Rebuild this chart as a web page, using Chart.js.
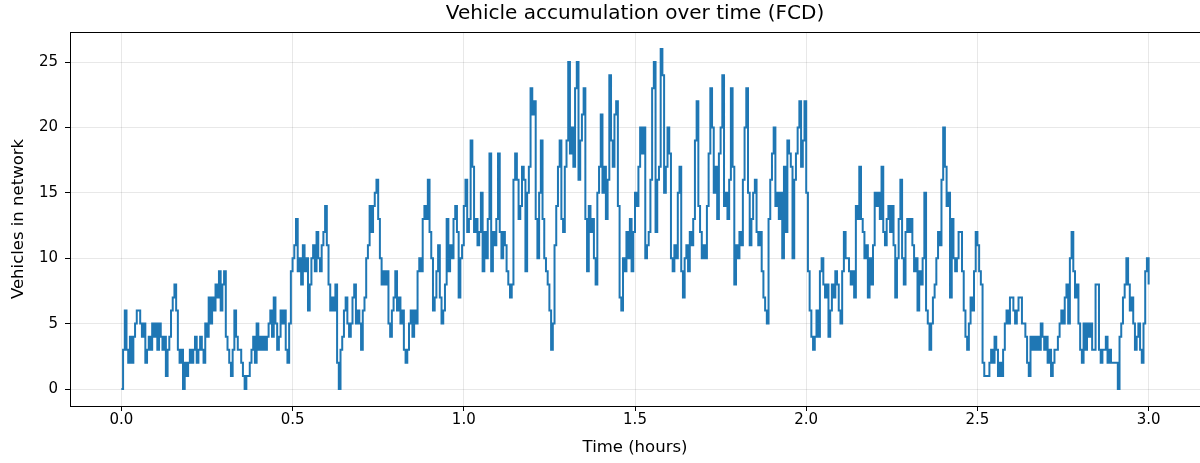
<!DOCTYPE html>
<html>
<head>
<meta charset="utf-8">
<script src="https://cdn.jsdelivr.net/npm/chart.js@4.4.0/dist/chart.umd.min.js"></script>
<style>
  html, body { margin: 0; padding: 0; background: #fff; }
  #wrap { width: 1200px; height: 463px; }
</style>
</head>
<body>
<div id="wrap"><canvas id="myChart"></canvas></div>
<script>
// time step of the samples (hours)
var stepHours = 0.005;

// vehicles in network, one value per step
var vehicles = [
  0,3,6,3,2,4,2,4,5,6,  6,5,4,5,2,3,4,3,5,4,  5,3,5,4,3,4,1,3,4,6,  7,8,6,3,2,3,0,2,1,2,
  3,2,3,4,2,3,4,3,2,5,  4,7,5,7,6,8,7,9,6,8,  9,4,3,2,1,3,6,4,3,3,  2,1,0,1,1,2,3,4,2,5,
  3,4,3,4,3,4,5,6,4,7,  5,3,4,6,5,6,3,2,5,9,  10,11,13,9,10,8,11,9,10,6,  8,10,11,9,12,10,9,11,12,14,
  11,8,6,7,6,8,2,0,3,4,  6,7,5,4,5,7,8,5,6,5,  3,6,7,10,11,14,12,14,15,16,  13,10,8,9,8,9,5,4,6,7,
  9,6,7,5,6,3,2,3,5,6,  4,6,5,9,10,9,13,14,13,16,  12,10,6,7,9,11,7,5,6,8,  13,9,11,10,13,14,12,7,10,11,
  14,16,12,13,19,17,12,13,11,12,  15,9,12,10,13,18,9,12,11,13,  18,12,10,12,11,9,8,7,8,16,  18,16,13,14,17,16,9,15,17,23,
  21,22,13,10,15,19,13,10,9,8,  6,3,5,11,14,17,19,13,12,17,  19,25,18,20,17,23,25,16,19,21,  23,13,9,14,12,13,10,8,15,17,
  21,15,17,13,16,24,19,17,21,22,  14,7,6,10,9,12,10,13,9,12,  15,14,17,20,18,20,10,11,12,16,  23,25,12,16,17,26,24,15,17,20,
  18,10,9,11,10,15,17,9,7,10,  11,9,12,11,13,19,22,14,12,10,  11,10,14,18,23,20,15,17,13,18,  20,24,14,15,13,16,23,17,8,11,
  10,12,11,16,20,23,15,11,13,15,  16,12,11,12,9,7,6,5,13,16,  18,20,14,15,13,15,10,17,12,19,  18,17,10,16,18,20,22,17,19,22,
  15,9,6,4,3,4,6,4,9,10,  8,7,8,4,6,8,7,9,8,6,  5,9,12,10,10,9,8,9,7,14,  13,17,13,12,10,11,7,10,8,11,
  15,14,15,13,17,12,11,13,14,12,  14,11,7,10,13,16,10,8,12,13,  12,13,11,9,10,6,9,8,10,15,  6,5,3,5,7,8,10,12,11,16,
  20,17,14,15,7,13,10,9,10,12,  12,9,6,4,3,5,7,6,9,12,  11,9,8,2,1,1,1,2,3,2,  4,3,1,2,1,3,5,6,5,7,
  7,6,5,6,7,7,5,5,4,2,  1,4,3,4,3,4,3,5,4,3,  4,2,3,1,2,3,3,4,5,6,  5,7,8,5,10,12,9,7,8,5,
  3,2,5,3,5,4,5,3,3,8,  8,3,2,3,3,4,2,3,2,2,  2,2,0,4,5,7,8,10,8,6,  7,5,3,4,5,3,2,5,9,10,
  8
];

var xTicks = [0, 0.5, 1.0, 1.5, 2.0, 2.5, 3.0];
var yTicks = [0, 5, 10, 15, 20, 25];
var chartTitle = "Vehicle accumulation over time (FCD)";

var points = [];
for (var i = 0; i < vehicles.length; i++) {
  points.push({ x: i * stepHours, y: vehicles[i] });
}

var fontFamily = "'DejaVu Sans', sans-serif";

// frame round the plot area and the title centred over the axes
var framePlugin = {
  id: "frame",
  afterDraw: function(chart) {
    var a = chart.chartArea;
    var c = chart.ctx;
    c.save();
    c.strokeStyle = "#000";
    c.lineWidth = 1;
    c.strokeRect(a.left + 0.5, a.top + 0.5, a.right - a.left + 2, a.bottom - a.top);
    c.fillStyle = "#000";
    c.font = "20px " + fontFamily;
    c.textAlign = "center";
    c.textBaseline = "middle";
    c.fillText(chartTitle, (a.left + a.right) / 2, 14);
    c.restore();
  }
};

var ctx = document.getElementById("myChart");
var myChart = new Chart(ctx, {
  type: "line",
  data: {
    datasets: [
      {
        label: "Vehicles",
        data: points,
        borderColor: "#1f77b4",
        borderWidth: 2,
        pointRadius: 0,
        stepped: true,
        fill: false
      }
    ]
  },
  options: {
    responsive: true,
    maintainAspectRatio: false,
    animation: false,
    layout: { padding: { left: 0, right: 0, top: 32, bottom: 0 } },
    plugins: {
      legend: { display: false },
      tooltip: { enabled: false },
      title: { display: false }
    },
    scales: {
      x: {
        type: "linear",
        min: -0.15,
        max: 3.15,
        afterBuildTicks: function(scale) {
          scale.ticks = xTicks.map(function(v) { return { value: v }; });
        },
        afterFit: function(scale) { scale.height = 57; },
        ticks: {
          color: "#000",
          font: { family: fontFamily, size: 15 },
          padding: 0,
          maxRotation: 0,
          callback: function(v) { return Number(v).toFixed(1); }
        },
        grid: { color: "rgba(0,0,0,0.09)", tickColor: "#000", tickLength: 5 },
        border: { display: false },
        title: {
          display: true,
          text: "Time (hours)",
          color: "#000",
          font: { family: fontFamily, size: 16.5 },
          padding: { top: 0, bottom: 5 }
        }
      },
      y: {
        type: "linear",
        min: -1.3,
        max: 27.3,
        afterBuildTicks: function(scale) {
          scale.ticks = yTicks.map(function(v) { return { value: v }; });
        },
        afterFit: function(scale) { scale.width = 70; },
        ticks: {
          color: "#000",
          font: { family: fontFamily, size: 15 },
          padding: 7
        },
        grid: { color: "rgba(0,0,0,0.09)", tickColor: "#000", tickLength: 5 },
        border: { display: false },
        title: {
          display: true,
          text: "Vehicles in network",
          color: "#000",
          font: { family: fontFamily, size: 16.5 },
          padding: { top: 9, bottom: 0 }
        }
      }
    }
  },
  plugins: [framePlugin]
});
</script>
</body>
</html>
